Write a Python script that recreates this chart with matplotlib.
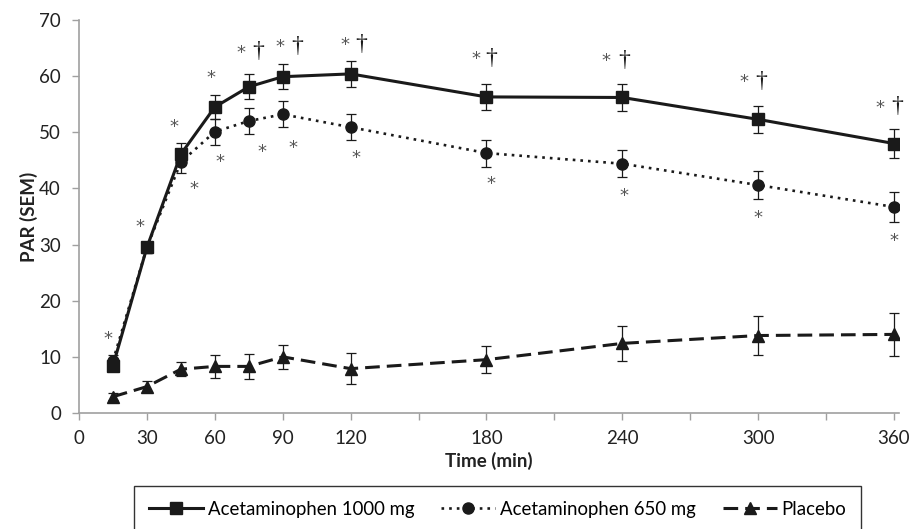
import matplotlib.pyplot as plt
import numpy as np

plt.rcParams['font.family'] = ['Lato', 'DejaVu Sans']

# data
time_min = [15, 30, 45, 60, 75, 90, 120, 180, 240, 300, 360]
acet_1000 = [8.4, 29.5, 46.1, 54.5, 58.1, 59.9, 60.4, 56.3, 56.2, 52.3, 48.0]
sem_1000 = [1.0, 1.0, 2.0, 2.15, 2.2, 2.2, 2.3, 2.3, 2.35, 2.45, 2.5]
acet_650 = [9.3, 29.5, 44.7, 50.1, 52.0, 53.2, 50.9, 46.3, 44.4, 40.6, 36.7]
sem_650 = [1.0, 1.0, 2.0, 2.3, 2.3, 2.3, 2.3, 2.4, 2.45, 2.55, 2.6]
placebo = [2.9, 4.7, 7.8, 8.3, 8.3, 10.0, 7.9, 9.5, 12.4, 13.8, 14.0]
sem_placebo = [0.6, 1.0, 1.2, 2.1, 2.2, 2.2, 2.7, 2.4, 3.1, 3.4, 3.8]

series_names = ["Acetaminophen 1000 mg", "Acetaminophen 650 mg", "Placebo"]

xticks = [0, 30, 60, 90, 120, 150, 180, 210, 240, 270, 300, 330, 360]
xtick_labels = ["0", "30", "60", "90", "120", "", "180", "", "240", "", "300", "", "360"]
yticks = [0, 10, 20, 30, 40, 50, 60, 70]

# significance marks: "*" vs placebo, "†" 1000 mg vs 650 mg
star_1000 = [1, 1, 1, 1, 1, 1, 1, 1, 1, 1, 1]
dagger_1000 = [0, 0, 0, 0, 1, 1, 1, 1, 1, 1, 1]
star_650 = [0, 0, 1, 1, 1, 1, 1, 1, 1, 1, 1]

# label offsets in pixels (dx, dy) - just placement
star_1000_off = [(-5, 33), (-7, 26), (-7, 33), (-4, 35), (-8, 40), (-3, 36),
                 (-6, 35), (-11, 44), (-16, 42), (-14, 43), (-14, 42)]
dagger_1000_off = [(0, 0), (0, 0), (0, 0), (0, 0), (9, 35), (14, 30),
                   (11, 29), (5, 38), (2, 37), (3, 38), (3, 37)]
star_650_off = [(0, 0), (0, 0), (13, -21), (5, -24), (13, -25), (10, -28),
                (5, -25), (4, -25), (2, -26), (0, -27), (0, -28)]
star_lift = 11  # star glyph centre above its baseline, px

fig = plt.figure(figsize=(9.13, 5.29), dpi=100)
ax = fig.add_axes([79 / 913, 116 / 529, 819.5 / 913, 393 / 529])

ink = '#1a1a1a'
e1 = ax.errorbar(time_min, acet_1000, yerr=sem_1000, color=ink, lw=2.2, marker='s',
                 ms=8, capsize=3.5, elinewidth=0.9, capthick=0.9, zorder=3)
e2 = ax.errorbar(time_min, acet_650, yerr=sem_650, color=ink, lw=1.9, ls=(0, (1, 1.9)),
                 marker='o', ms=8, capsize=3.5, elinewidth=0.9, capthick=0.9, zorder=3)
e3 = ax.errorbar(time_min, placebo, yerr=sem_placebo, color=ink, lw=2.2, ls=(0, (4.8, 2.3)),
                 marker='^', ms=8.5, capsize=3.5, elinewidth=0.9, capthick=0.9, zorder=3)

for i, t in enumerate(time_min):
    if star_1000[i]:
        dx, dy = star_1000_off[i]
        ax.annotate('*', (t, acet_1000[i]), xytext=(dx, dy - star_lift), textcoords='offset pixels',
                    ha='center', va='baseline', fontsize=13, color='#555555', family='DejaVu Sans')
    if dagger_1000[i]:
        ax.annotate('†', (t, acet_1000[i]), xytext=dagger_1000_off[i], textcoords='offset pixels',
                    ha='center', va='center', fontsize=17, color=ink, family='Liberation Serif')
    if star_650[i]:
        dx, dy = star_650_off[i]
        ax.annotate('*', (t, acet_650[i]), xytext=(dx, dy - star_lift), textcoords='offset pixels',
                    ha='center', va='baseline', fontsize=13, color='#555555', family='DejaVu Sans')

ax.set_xlim(0, 362)
ax.set_ylim(0, 70)
ax.set_xticks(xticks)
ax.set_xticklabels(xtick_labels)
ax.set_yticks(yticks)
ax.tick_params(axis='both', colors='#a0a0a0', labelcolor='#222222', labelsize=13.5,
               length=5, width=1, direction='out')
ax.tick_params(axis='y', pad=8)
ax.tick_params(axis='x', pad=7)

for s in ['top', 'right']:
    ax.spines[s].set_visible(False)
for s in ['left', 'bottom']:
    ax.spines[s].set_color('#a0a0a0')
    ax.spines[s].set_linewidth(1.2)

ax.set_xlabel('Time (min)', fontsize=13.5, fontweight='bold', color='#222222', labelpad=4)
ax.set_ylabel('PAR (SEM)', fontsize=13.5, fontweight='bold', color='#222222', labelpad=1)

# legend shows only line + marker, no error bars
handles = [e1[0], e2[0], e3[0]]
leg = fig.legend(handles, series_names, loc='upper left', bbox_to_anchor=(134 / 913, 43 / 529),
                 ncol=3, fontsize=13.4, frameon=True, fancybox=False, edgecolor='black',
                 handlelength=2.9, handletextpad=0.25, columnspacing=1.45, borderpad=0.8,
                 borderaxespad=0)
leg.get_frame().set_linewidth(1.0)

fig.savefig('out.png', dpi=100)
